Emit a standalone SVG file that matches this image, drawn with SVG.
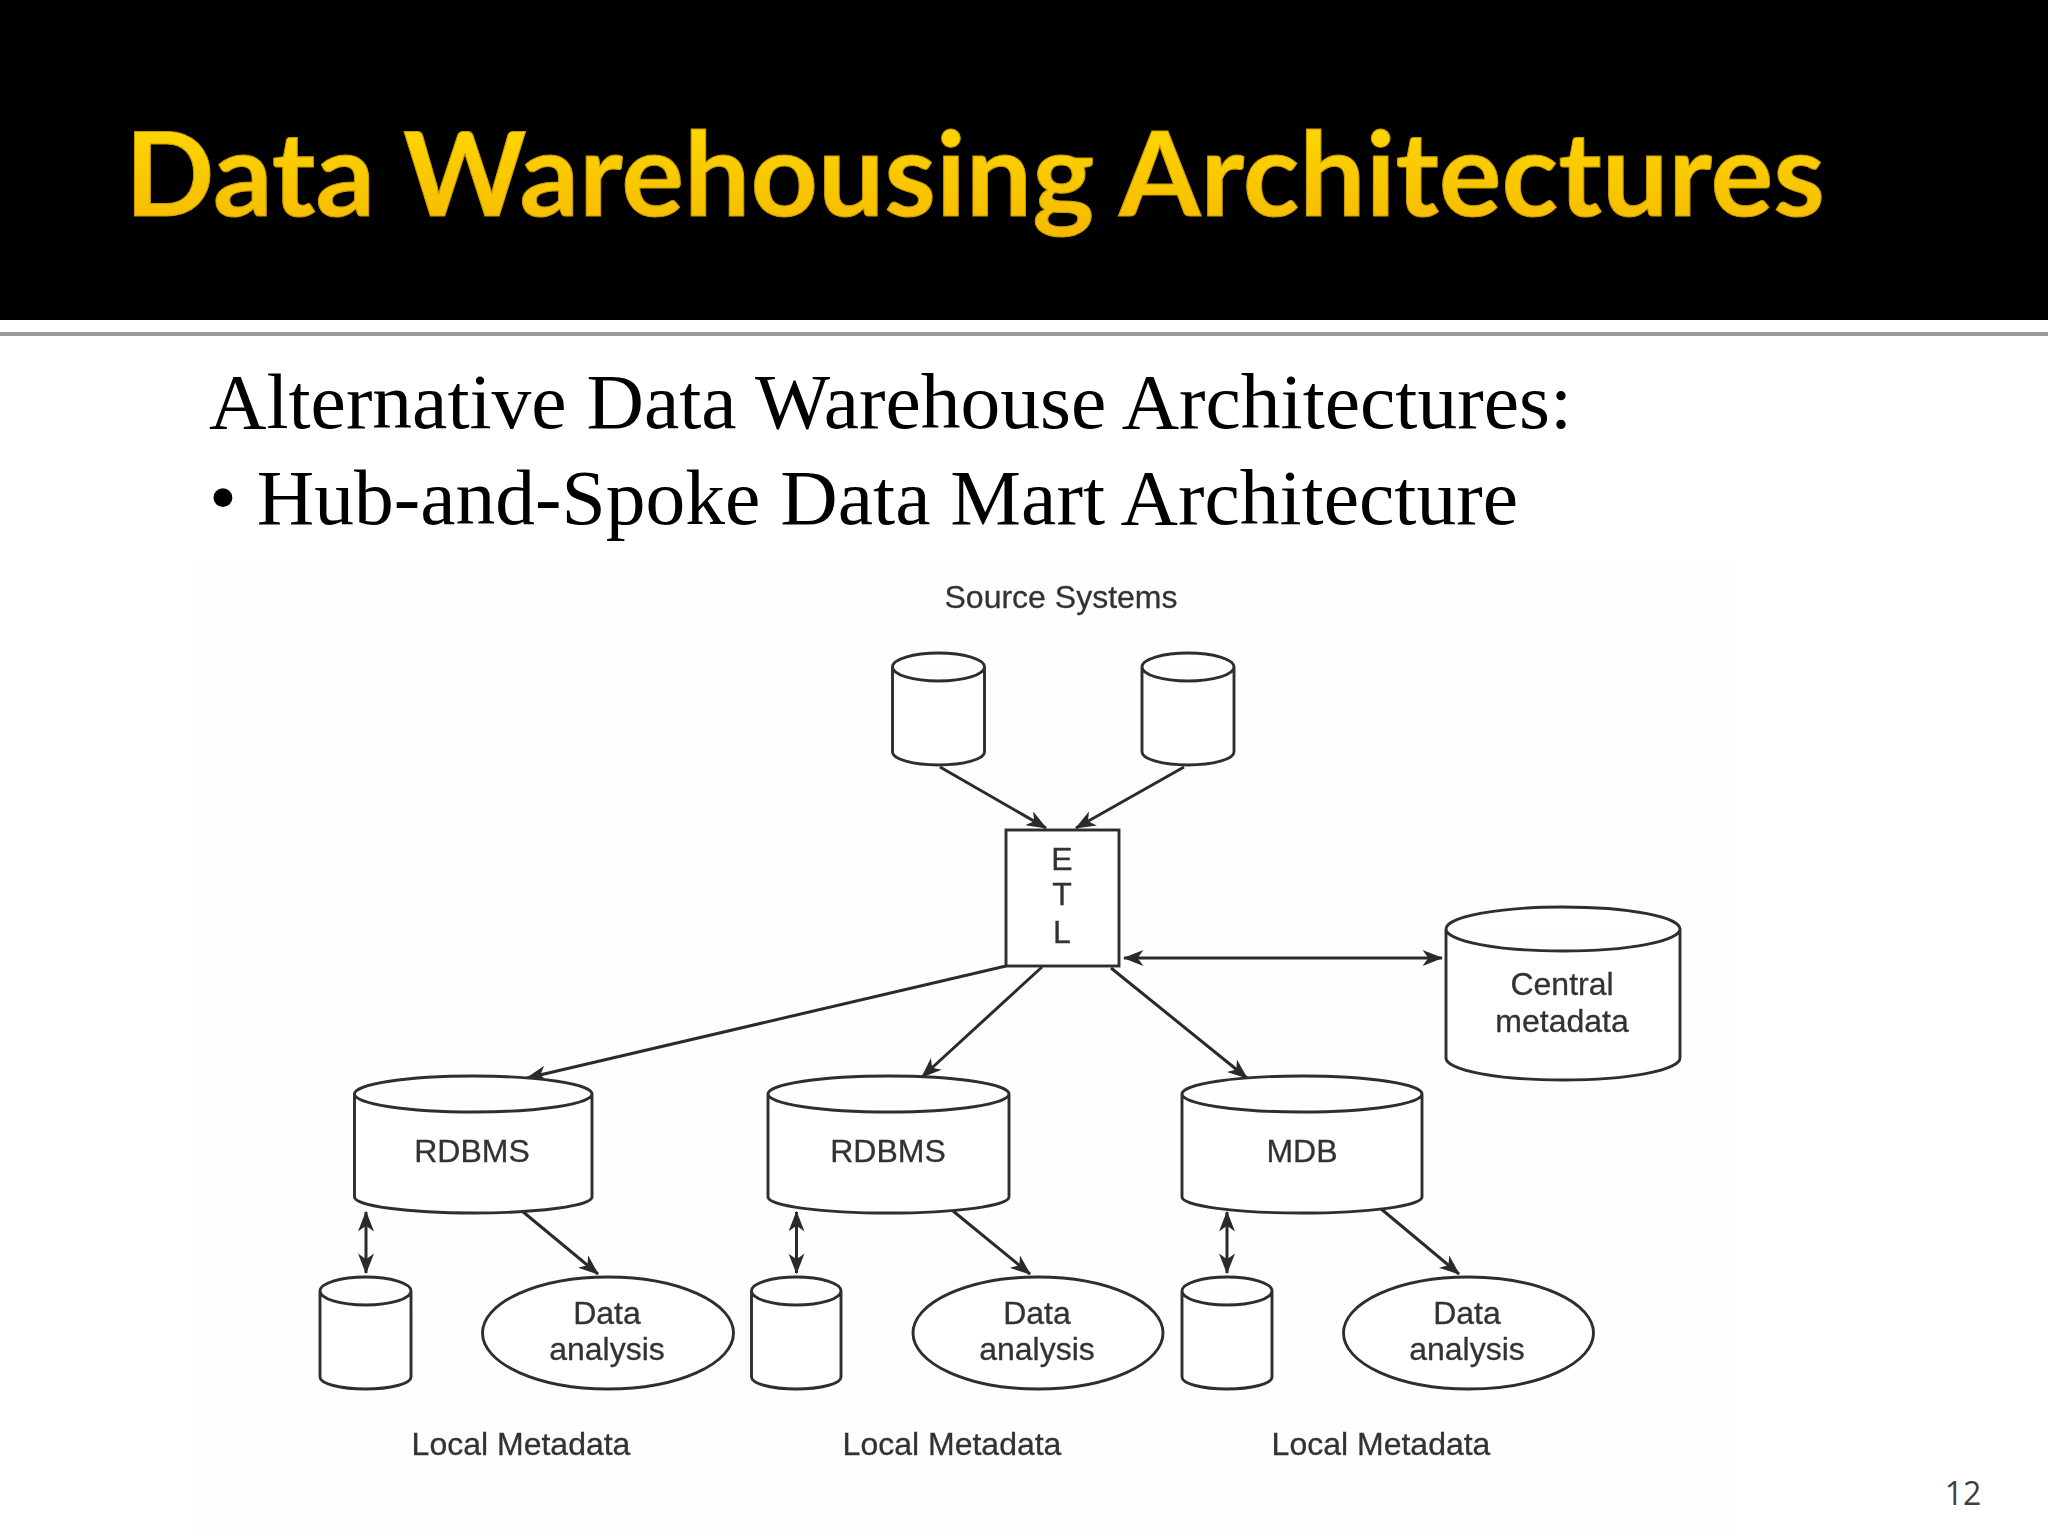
<svg xmlns="http://www.w3.org/2000/svg" width="2048" height="1536" viewBox="0 0 2048 1536">
<defs>
<linearGradient id="gold" x1="0" y1="0" x2="0" y2="1"><stop offset="0" stop-color="#ffdc00"/><stop offset="1" stop-color="#f5b800"/></linearGradient>
<filter id="soft" x="-5%" y="-5%" width="110%" height="110%"><feGaussianBlur stdDeviation="0.7"/></filter>
<marker id="head" viewBox="0 0 18 14" refX="17" refY="7" markerWidth="21" markerHeight="16" markerUnits="userSpaceOnUse" orient="auto-start-reverse"><path d="M0 0 L18 7 L0 14 L5 7 Z" fill="#2b2b2b"/></marker>
</defs>
<style>
.title{font-family:"Lato","Open Sans",sans-serif;font-weight:700;font-size:116px;fill:url(#gold);stroke:#c99a00;stroke-width:1}
.body{font-family:"Liberation Serif",serif;font-size:78px;fill:#000}
.lab{font-family:"Liberation Sans",sans-serif;font-size:32px;fill:#333;stroke:#333;stroke-width:.3;text-anchor:middle}
.shape{fill:#fff;stroke:#2e2e2e;stroke-width:2.9}
.wire{fill:none;stroke:#2b2b2b;stroke-width:3;marker-end:url(#head)}
.both{marker-start:url(#head)}
</style>
<rect width="2048" height="1536" fill="#fff"/>
<rect id="header" width="2048" height="320" fill="#000"/>
<rect id="rule" y="332" width="2048" height="4" fill="#9a9a9a"/>
<text class="title" x="125" y="216" textLength="1700" lengthAdjust="spacingAndGlyphs">Data Warehousing Architectures</text>
<text class="body" x="209" y="428" textLength="1363" lengthAdjust="spacingAndGlyphs">Alternative Data Warehouse Architectures:</text>
<text class="body" x="209" y="524" textLength="1309" lengthAdjust="spacingAndGlyphs">• Hub-and-Spoke Data Mart Architecture</text>
<rect id="figure-bg" x="195" y="560" width="1535" height="976" fill="#fefefe"/>
<g filter="url(#soft)">
<g id="connectors">
<path class="wire" d="M940 767L1046 828"/>
<path class="wire" d="M1184 767L1076 828"/>
<path class="wire" d="M1006 966L527 1078"/>
<path class="wire" d="M1042 967L922 1077"/>
<path class="wire" d="M1111 968L1247 1078"/>
<path class="wire both" d="M1124 958L1442 958"/>
<path class="wire both" d="M366 1212L366 1273"/>
<path class="wire both" d="M796.500 1212L796.500 1273"/>
<path class="wire both" d="M1227 1212L1227 1273"/>
<path class="wire" d="M522 1211L598 1274"/>
<path class="wire" d="M953 1211L1030 1274"/>
<path class="wire" d="M1380 1208L1459 1274"/>
</g>
<g id="source-1"><path class="shape" d="M892.500 667A46 14 0 0 1 984.500 667A46 14 0 0 1 892.500 667V752A46 13 0 0 0 984.500 752V667"/></g>
<g id="source-2"><path class="shape" d="M1142 667A46 14 0 0 1 1234 667A46 14 0 0 1 1142 667V752A46 13 0 0 0 1234 752V667"/></g>
<text class="lab" id="source-label" x="1061" y="608">Source Systems</text>
<g id="etl"><rect class="shape" x="1006" y="830" width="113" height="136"/>
<text class="lab" x="1062" y="870">E</text><text class="lab" x="1062" y="905">T</text><text class="lab" x="1062" y="943">L</text></g>
<g id="central"><path class="shape" d="M1446 929A117 22 0 0 1 1680 929A117 22 0 0 1 1446 929V1058A117 22 0 0 0 1680 1058V929"/>
<text class="lab" x="1562" y="995">Central</text><text class="lab" x="1562" y="1032">metadata</text></g>
<g id="rdbms-1"><path class="shape" d="M354.500 1094A118.750 18 0 0 1 592 1094A118.750 18 0 0 1 354.500 1094V1197A118.750 16 0 0 0 592 1197V1094"/>
<text class="lab" x="472" y="1162">RDBMS</text></g>
<g id="rdbms-2"><path class="shape" d="M768 1094A120.500 18 0 0 1 1009 1094A120.500 18 0 0 1 768 1094V1197A120.500 16 0 0 0 1009 1197V1094"/>
<text class="lab" x="888" y="1162">RDBMS</text></g>
<g id="mdb"><path class="shape" d="M1182 1094A120 18 0 0 1 1422 1094A120 18 0 0 1 1182 1094V1197A120 16 0 0 0 1422 1197V1094"/>
<text class="lab" x="1302" y="1162">MDB</text></g>
<g id="local-1"><path class="shape" d="M320 1291A45.500 14 0 0 1 411 1291A45.500 14 0 0 1 320 1291V1377A45.500 12 0 0 0 411 1377V1291"/></g>
<g id="local-2"><path class="shape" d="M751.500 1291A44.750 14 0 0 1 841 1291A44.750 14 0 0 1 751.500 1291V1377A44.750 12 0 0 0 841 1377V1291"/></g>
<g id="local-3"><path class="shape" d="M1182 1291A45 14 0 0 1 1272 1291A45 14 0 0 1 1182 1291V1377A45 12 0 0 0 1272 1377V1291"/></g>
<g id="analysis-1"><ellipse class="shape" cx="608" cy="1333" rx="125.500" ry="56"/>
<text class="lab" x="607" y="1324">Data</text><text class="lab" x="607" y="1360">analysis</text></g>
<g id="analysis-2"><ellipse class="shape" cx="1038" cy="1333" rx="125" ry="56"/>
<text class="lab" x="1037" y="1324">Data</text><text class="lab" x="1037" y="1360">analysis</text></g>
<g id="analysis-3"><ellipse class="shape" cx="1468.500" cy="1333" rx="125" ry="56"/>
<text class="lab" x="1467" y="1324">Data</text><text class="lab" x="1467" y="1360">analysis</text></g>
<text class="lab" x="521" y="1455">Local Metadata</text>
<text class="lab" x="952" y="1455">Local Metadata</text>
<text class="lab" x="1381" y="1455">Local Metadata</text>
</g>
<text id="page" x="1963" y="1505" text-anchor="middle" font-family="Open Sans, sans-serif" font-size="32" fill="#3f3f3f">12</text>
</svg>
